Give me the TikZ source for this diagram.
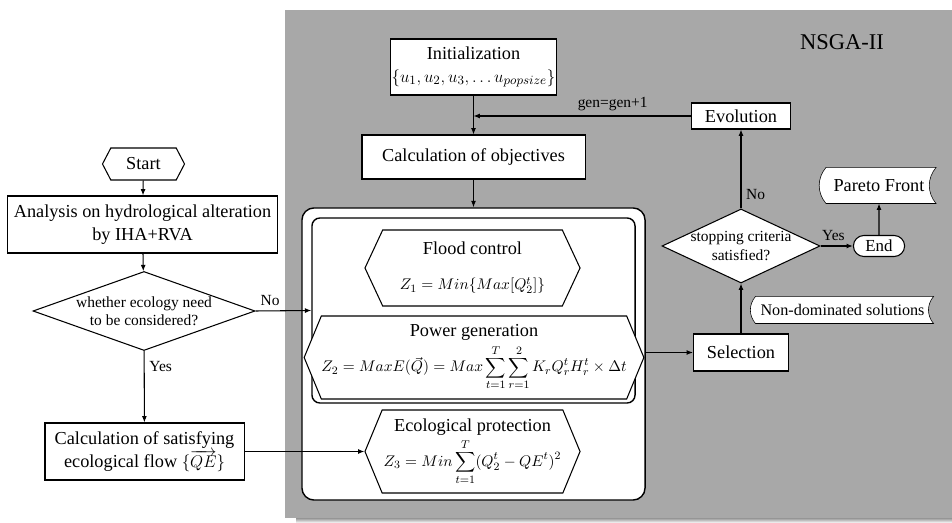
\documentclass[tikz,border=0pt]{standalone}
\usepackage{fontspec}
\setmainfont{Liberation Serif}
\usetikzlibrary{shapes.geometric,shapes.symbols,shapes.misc,backgrounds,arrows.meta}
\definecolor{panel}{RGB}{168,168,168}
\definecolor{shade}{RGB}{212,212,212}

\begin{document}
\begin{tikzpicture}[x=0.025cm, y=-0.025cm, >={Latex[length=4.5pt,width=3.5pt]}, line width=0.75pt,
	box/.style={draw, fill=white, align=center, inner sep=1pt, font=\fontsize{13}{16}\selectfont},
	hexa/.style={draw, fill=white, signal, signal to=east and west, signal pointer angle=130, align=center, inner sep=0pt, font=\fontsize{13}{16}\selectfont},
	dia/.style={draw, fill=white, diamond, inner sep=0pt},
	frm/.style={draw, fill=white, line width=1pt, rounded corners=0.3cm},
	lbl/.style={font=\fontsize{11}{13}\selectfont}]
	\useasboundingbox (0,0) rectangle (952,523);
	\begin{scope}[on background layer]
	\fill[shade] (296,517) rectangle (952,523);
	\fill[panel] (285,10) rectangle (952,518);
	\end{scope}
	% left column
	\node (st) [hexa, signal pointer angle=125, minimum width=2.05cm, minimum height=0.8cm] at (143.5,164) {Start};
	\node (ana) [box, minimum width=6.725cm, minimum height=1.425cm] at (142.5,224.5) {Analysis on hydrological alteration\\by IHA+RVA};
	\node (d1) [dia, minimum width=5.55cm, minimum height=1.975cm, label={[lbl, align=center]center:whether ecology need\\to be considered?}] at (144,311) {};
	\node (eco) [box, minimum width=4.975cm, minimum height=1.425cm] at (144.5,451.5) {Calculation of satisfying\\ecological flow $\{\overrightarrow{QE}\}$};
	% NSGA-II panel
	\node (ttl) [font=\fontsize{16}{19}\selectfont] at (842,42) {NSGA-II};
	\node (ini) [box, minimum width=3.675cm, minimum height=1.4cm] at (473.5,67) {Initialization\\$\{u_1,u_2,u_3,\ldots u_{popsize}\}$};
	\node (obj) [box, minimum width=5.575cm, minimum height=1.1cm] at (473.5,157) {Calculation of objectives};
	\node (ob) [frm, minimum width=8.575cm, minimum height=7.3cm] at (473.5,354) {};
	\node (ib) [frm, rounded corners=0.2cm, minimum width=8.075cm, minimum height=4.625cm] at (473.5,310.5) {};
	\node (fc) [hexa, minimum width=5.375cm, minimum height=1.9cm] at (472.5,268) {Flood control\\[9pt]{\fontsize{11}{13}\selectfont $Z_1 = Min\{Max[Q_2^t]\}$}};
	\node (pg) [hexa, signal pointer angle=135, minimum width=7.9cm, minimum height=2.075cm] at (474,357.5) {Power generation\\[2pt]{\fontsize{11}{13}\selectfont $\displaystyle Z_2 = MaxE(\vec{Q}) = Max\sum_{t=1}^{T}\sum_{r=1}^{2}K_rQ_r^tH_r^t\times\Delta t$}};
	\node (ep) [hexa, signal pointer angle=135, minimum width=5.375cm, minimum height=2.075cm] at (472.5,451.5) {Ecological protection\\[2pt]{\fontsize{11}{13}\selectfont $\displaystyle Z_3 = Min\sum_{t=1}^{T}(Q_2^t-QE^t)^2$}};
	\node (sel) [box, minimum width=2.375cm, minimum height=0.925cm] at (741,352.5) {Selection};
	\node (d2) [dia, minimum width=3.95cm, minimum height=1.85cm, label={[lbl, align=center]center:stopping criteria\\satisfied?}] at (741,246) {};
	\node (ev) [box, minimum width=2.475cm, minimum height=0.65cm] at (741,116) {Evolution};
	\node (end) [box, rounded rectangle, minimum width=1.35cm, minimum height=0.525cm, font=\fontsize{12}{14}\selectfont] at (879,246) {End};
	\node (pf) [font=\fontsize{13}{16}\selectfont, minimum width=2.825cm, minimum height=0.875cm] at (879,185.5) {Pareto Front};
	\node (nd) [font=\fontsize{11.5}{14}\selectfont, minimum width=4.525cm, minimum height=0.65cm] at (842.5,310) {Non-dominated solutions};
	\begin{scope}[on background layer]
	\draw[fill=white] ([xshift=0.1cm]pf.north west) to[bend right=40] ([xshift=0.1cm]pf.south west) -- (pf.south east) to[bend left=40] (pf.north east) -- cycle;
	\draw[fill=white] ([xshift=0.1cm]nd.north west) to[bend right=40] ([xshift=0.1cm]nd.south west) -- (nd.south east) to[bend left=40] (nd.north east) -- cycle;
	\end{scope}
	\coordinate (j1) at (ini.south |- ev.west);
	% connectors
	\draw[->] (st) -- (ana);
	\draw[->] (ana) -- (d1);
	\draw[->] (d1.east) -- node[lbl, above, pos=0.26] {No} (ib.west);
	\draw[->] (d1) -- node[lbl, right, pos=0.22] {Yes} (eco);
	\draw[->] (eco.east) -- (ep.west);
	\draw[->] (ini) -- (obj);
	\draw[->] (ev) -- node[lbl, above, pos=0.36] {gen=gen+1} (j1);
	\draw[->] (obj) -- (ob);
	\draw[->] (ob.east |- sel.west) -- (sel);
	\draw[->] (sel) -- (d2);
	\draw[->] (d2) -- node[lbl, right, pos=0.18] {No} (ev);
	\draw[->] (d2) -- node[lbl, above, pos=0.4] {Yes} (end);
	\draw[->] (end) -- (pf);
\end{tikzpicture}
\end{document}
